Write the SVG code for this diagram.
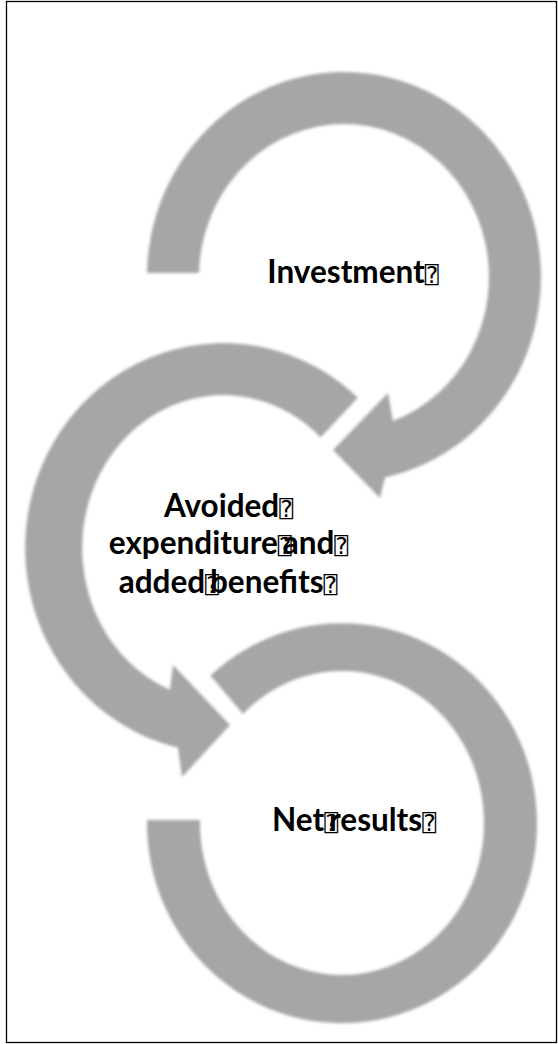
<svg xmlns="http://www.w3.org/2000/svg" width="558" height="1044" viewBox="0 0 558 1044">
  <style>
    .ring { fill: #a6a6a6; filter: url(#soft); }
    .label { font-family: Lato, "Open Sans", "Liberation Sans", sans-serif; font-weight: bold; font-size: 31.5px; fill: #000; text-anchor: middle; }
    .q { font-family: "DejaVu Sans Mono", "DejaVu Sans", monospace; font-weight: normal; font-size: 23px; }
  </style>
  <defs>
    <filter id="soft" x="-10%" y="-10%" width="120%" height="120%">
      <feGaussianBlur stdDeviation="1.6"/>
    </filter>
  </defs>

  <rect x="6.5" y="1.5" width="550" height="1041" fill="#fff" stroke="#000" stroke-width="1.3"/>

  <!-- step 1: clockwise arrow, head at lower left -->
  <g id="node-investment">
    <path class="ring" d="M 147 273 A 197 205 0 1 1 385 477.5 L 380 498 L 333 450 L 388 393 L 393 421 A 145 153 0 1 0 199 273 Z"/>
    <text class="label" x="353" y="283">Investment<tspan class="q">⍰</tspan></text>
  </g>

  <!-- step 2: counter-clockwise arrow, head at bottom -->
  <g id="node-avoided">
    <path class="ring" d="M 357.8 397.8 A 198 205 0 1 0 178 747.7 L 182 777 L 230 725 L 173 665 L 170 689.8 A 141 153 0 1 1 320.6 437.5 Z"/>
    <text class="label" x="228.5" y="517">Avoided<tspan class="q">⍰</tspan></text>
    <text class="label" x="228.5" y="554">expenditure<tspan class="q">⍰</tspan><tspan dx="-9">and</tspan><tspan class="q">⍰</tspan></text>
    <text class="label" x="228" y="593">added<tspan class="q">⍰</tspan><tspan dx="-9">benefits</tspan><tspan class="q">⍰</tspan></text>
  </g>

  <!-- step 3: open ring without head -->
  <g id="node-net">
    <path class="ring" d="M 210.4 675.6 A 195 200 0 1 1 147 820 L 200 820 A 142 152 0 1 0 243 714 Z"/>
    <text class="label" x="354" y="831">Net<tspan class="q">⍰</tspan><tspan dx="-9">results</tspan><tspan class="q">⍰</tspan></text>
  </g>
</svg>
